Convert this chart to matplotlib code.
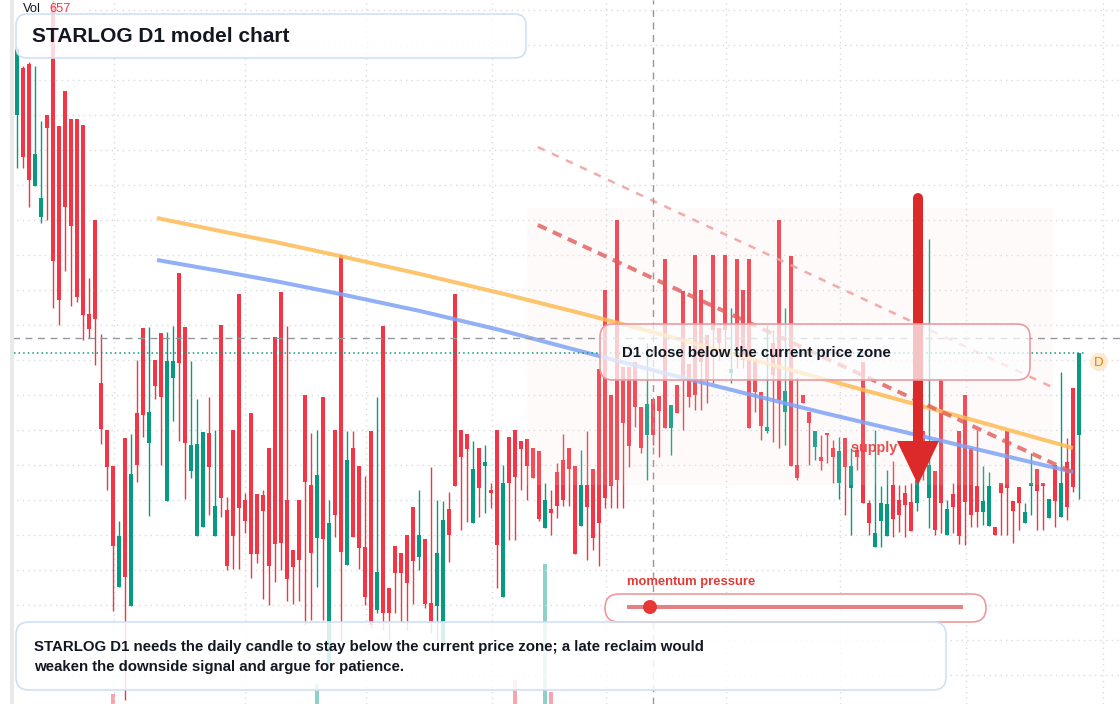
import numpy as np
import matplotlib
matplotlib.use("Agg")
import matplotlib.pyplot as plt
from matplotlib.patches import FancyBboxPatch, Rectangle, Polygon, Circle
from matplotlib.lines import Line2D
from matplotlib.transforms import Affine2D

# ---------------- data (price units) ----------------
opens = [585, 632, 636, 514, 483, 585, 695, 574, 609, 581, 581, 575, 386, 480, 317, 270, 234, 113, 262, 94,
         287, 372, 257, 340, 367, 199, 322, 427, 373, 229, 164, 173, 267, 164, 375, 190, 270, 406, 200, 287,
         206, 205, 252, 363, 408, 200, 150, 200, 305, 215, 162, 303, 33, 270, 445, 135, 252, 234, 153, 269,
         90, 374, 112, 154, 147, 165, 193, 143, 161, 97, 94, 53, 191, 406, 270, 266, 177, 252, 234, 210,
         270, 103, 263, 270, 259, 261, 252, 249, 172, 191, 228, 240, 252, 234, 174, 215, 231, 331, 410, 305,
         480, 333, 333, 338, 293, 265, 301, 304, 441, 272, 315, 409, 336, 445, 410, 365, 445, 372, 445, 327,
         441, 410, 441, 340, 308, 269, 357, 480, 288, 444, 235, 305, 288, 253, 243, 267, 252, 217, 262, 212,
         250, 338, 197, 153, 179, 164, 215, 200, 207, 198, 197, 269, 202, 229, 321, 165, 206, 269, 305, 252,
         214, 188, 174, 173, 217, 269, 199, 213, 177, 214, 231, 217, 182, 235, 183, 238, 312, 265]
highs = [653, 634, 638, 634, 579, 585, 700, 574, 609, 581, 581, 575, 422, 480, 366, 270, 234, 179, 262, 266,
         340, 372, 373, 340, 367, 368, 374, 427, 373, 339, 301, 268, 303, 270, 375, 203, 270, 406, 207, 287,
         206, 210, 252, 363, 408, 374, 150, 200, 305, 267, 270, 303, 200, 270, 445, 269, 269, 234, 224, 269,
         303, 374, 112, 154, 147, 165, 193, 210, 161, 233, 200, 199, 208, 406, 270, 266, 259, 252, 255, 217,
         270, 235, 263, 270, 259, 261, 252, 249, 217, 210, 237, 266, 252, 234, 250, 269, 231, 331, 410, 305,
         480, 333, 333, 338, 293, 357, 301, 304, 441, 295, 315, 409, 336, 445, 410, 365, 445, 372, 445, 392,
         441, 410, 441, 340, 308, 375, 370, 480, 392, 444, 323, 305, 288, 269, 265, 267, 260, 263, 262, 252,
         255, 338, 200, 270, 214, 230, 239, 215, 215, 217, 230, 269, 461, 229, 321, 200, 217, 269, 305, 252,
         270, 234, 228, 173, 217, 269, 199, 213, 197, 247, 231, 217, 201, 235, 328, 262, 312, 347]
lows = [532, 532, 493, 514, 477, 480, 392, 375, 429, 394, 398, 360, 362, 335, 256, 210, 89, 113, 0, 94,
        218, 263, 184, 301, 235, 199, 279, 259, 201, 222, 164, 173, 185, 164, 183, 130, 131, 131, 167, 122,
        137, 101, 95, 118, 130, 99, 96, 99, 75, 80, 113, 80, 33, 163, 60, 135, 163, 131, 95, 72,
        87, 70, 60, 87, 78, 70, 96, 130, 92, 67, 60, 53, 138, 214, 170, 178, 177, 183, 187, 192,
        112, 103, 160, 160, 210, 200, 222, 179, 172, 165, 182, 194, 194, 146, 174, 140, 150, 134, 192, 192,
        192, 192, 233, 273, 247, 220, 255, 243, 272, 245, 287, 270, 293, 290, 290, 297, 317, 340, 350, 317,
        332, 332, 272, 288, 260, 267, 258, 252, 255, 234, 220, 297, 235, 240, 230, 237, 217, 201, 185, 165,
        230, 197, 165, 153, 153, 164, 163, 168, 163, 169, 189, 220, 172, 165, 167, 165, 167, 156, 155, 173,
        173, 175, 174, 165, 165, 165, 157, 170, 177, 185, 170, 170, 182, 173, 183, 180, 208, 201]
closes = [651, 543, 520, 546, 502, 572, 439, 400, 493, 474, 403, 385, 371, 381, 271, 233, 154, 164, 123, 226,
          235, 285, 288, 314, 303, 339, 339, 337, 257, 255, 256, 268, 233, 194, 202, 134, 164, 192, 179, 146,
          146, 189, 134, 156, 157, 121, 133, 140, 218, 147, 225, 161, 177, 185, 148, 240, 163, 152, 103, 75,
          128, 87, 87, 127, 127, 117, 139, 165, 96, 78, 147, 180, 165, 214, 243, 251, 231, 212, 238, 207,
          155, 217, 217, 223, 251, 234, 222, 181, 200, 187, 194, 200, 231, 146, 215, 193, 162, 177, 202, 214,
          220, 277, 254, 293, 252, 296, 265, 289, 272, 295, 287, 320, 303, 305, 338, 320, 370, 357, 370, 331,
          352, 340, 272, 308, 274, 273, 325, 300, 309, 234, 222, 297, 277, 269, 239, 265, 243, 249, 233, 234,
          243, 197, 177, 167, 197, 196, 181, 185, 195, 169, 220, 230, 235, 170, 197, 191, 193, 164, 198, 185,
          188, 199, 214, 165, 207, 212, 189, 197, 188, 217, 209, 214, 201, 199, 217, 193, 213, 347]

vol_index = [16, 50, 83, 88, 89]
vol_values = [343, 392, 412, 980, 353]
vol_label = "657"

# model curves (bar index, price)
curve_x = [23.33, 33.83, 43.83, 53.83, 67.17, 80.5, 93.83, 107.17, 120.5, 133.83, 147.17, 160.5, 176.0]
orange_y = [482, 469, 457, 444, 426, 407, 387, 366, 344, 322, 300, 278, 252]
blue_y = [440, 429, 418, 406, 389, 370, 349, 328, 308, 288, 269, 250, 228]
trend_thick_x = [86.8, 175.8]
trend_thick_y = [475, 228]
trend_thin_x = [86.8, 172.5]
trend_thin_y = [553, 313]
zone_x = [85.0, 172.7]
zone_y = [215, 492]
crosshair_x = 106
crosshair_y = 362
grid_prices = [690, 655, 620, 585, 550, 515, 480, 445, 410, 375, 340, 305, 270, 235, 200, 165, 130, 95, 60, 25]
grid_times = [16.17, 38.0, 58.17, 79.17, 98.17, 118.17, 137.17, 158.17, 181.0]

UP = "#089981"
DOWN = "#f23645"
TXT = "#131722"
FONT = ["Liberation Sans", "DejaVu Sans"]
plt.rcParams["font.family"] = FONT

W, H = 1120, 704
fig = plt.figure(figsize=(W / 100, H / 100), dpi=100)
fig.patch.set_facecolor("white")

# pixel transform (origin top-left) for annotation layout
pix = Affine2D().scale(1, -1).translate(0, H)

# ---------- volume pane ----------
vax = fig.add_axes([0, -60 / H, 1, 204 / H], zorder=0)
vax.set_xlim(-17 / 6, (W - 17) / 6)
vax.set_ylim(0, 1000)
vax.axis("off")
vcols = [(UP if closes[i] >= opens[i] else DOWN) for i in vol_index]
vax.bar(vol_index, vol_values, width=0.8, color=vcols, alpha=0.45, linewidth=0)

# ---------- main pane ----------
ax = fig.add_axes([0, 0, 1, 1], zorder=1)
ax.set_xlim(-17 / 6, (W - 17) / 6)
ax.set_ylim(-4, 700)
ax.axis("off")

for p in grid_prices:
    ax.axhline(p, color="#d7dadf", lw=1.0, ls=(0, (1, 3)), zorder=0.5)
for t in grid_times:
    ax.axvline(t, color="#d7dadf", lw=1.0, ls=(0, (1, 3)), zorder=0.5)

idx = np.arange(len(opens))
o = np.array(opens, float); c = np.array(closes, float)
hi = np.array(highs, float); lo = np.array(lows, float)
up = c >= o
cols = np.where(up, UP, DOWN)
ax.vlines(idx, lo, hi, colors=cols, lw=1.0, zorder=2)
bottom = np.minimum(o, c)
height = np.maximum(np.abs(c - o), 1.2)
ax.bar(idx, height, bottom=bottom, width=0.8, color=cols, linewidth=0, zorder=2.1)

# zone
ax.add_patch(Rectangle((zone_x[0], zone_y[0]), zone_x[1] - zone_x[0], zone_y[1] - zone_y[0],
                       facecolor="#f3e2da", alpha=0.14, edgecolor="none", zorder=3))

# model lines
ax.plot(curve_x, orange_y, color="#fdbb55", alpha=0.85, lw=2.9, solid_capstyle="butt",
        solid_joinstyle="round", zorder=4)
ax.plot(curve_x, blue_y, color="#7fa3f6", alpha=0.85, lw=2.9, solid_capstyle="butt",
        solid_joinstyle="round", zorder=4)
ln, = ax.plot(trend_thick_x, trend_thick_y, color="#e25c5c", alpha=0.8, lw=2.9, zorder=4)
ln.set_dashes((2.4, 1.7))
ln2, = ax.plot(trend_thin_x, trend_thin_y, color="#f2a2a2", alpha=0.9, lw=1.8, zorder=4)
ln2.set_dashes((3.0, 3.2))

# crosshair + last price line
ax.axvline(crosshair_x, color="#9598a1", lw=1.0, ls=(0, (5, 4)), zorder=5)
ax.axhline(crosshair_y, color="#9598a1", lw=1.0, ls=(0, (5, 4)), zorder=5)
ax.hlines(closes[-1], -0.5, 178, colors=UP, lw=1.1, linestyles=(0, (1, 2)), zorder=5)

# supply zone label + arrow
ax.text(851, 448, "supply zone", transform=pix, color="#e53e3e", alpha=0.9, fontsize=10.4,
        fontweight="bold", va="center", ha="left", zorder=6)
ax.add_line(Line2D([918, 918], [198, 446], transform=pix, color="#dc2a2a", lw=7.2,
                   solid_capstyle="round", zorder=7))
ax.add_patch(Polygon([(897, 441), (939, 441), (918, 485)], closed=True, transform=pix,
                     facecolor="#dc2a2a", edgecolor="none", zorder=7))

def rbox(x, y, w, h, r, fc, fa, ec, lw, z):
    p = FancyBboxPatch((x, y), w, h, boxstyle=f"round,pad=0,rounding_size={r}",
                       transform=pix, facecolor=fc, edgecolor="none", alpha=fa, zorder=z)
    ax.add_patch(p)
    e = FancyBboxPatch((x, y), w, h, boxstyle=f"round,pad=0,rounding_size={r}",
                       transform=pix, facecolor="none", edgecolor=ec, lw=lw, zorder=z + 0.01)
    ax.add_patch(e)

# callout
rbox(600, 324, 430, 56, 13, "white", 0.72, "#ea9aa0", 1.2, 8)
ax.text(622, 353, "D1 close below the current price zone", transform=pix, color=TXT,
        fontsize=10.8, fontweight="bold", va="center", ha="left", zorder=9)

# D badge
ax.add_patch(Circle((1099, 362), 9, transform=pix, facecolor="#fde9cf", edgecolor="none", zorder=8))
ax.text(1099, 362.5, "D", transform=pix, color="#f57c00", fontsize=9.5, ha="center", va="center", zorder=9)

# momentum slider
ax.text(627, 582, "momentum pressure", transform=pix, color="#e53935", fontsize=9.4,
        fontweight="bold", va="center", ha="left", zorder=9)
rbox(605, 594, 381, 28, 14, "white", 0.8, "#ef9a9a", 1.2, 8)
ax.add_line(Line2D([627, 963], [607, 607], transform=pix, color="#e57373", lw=2.9, alpha=0.9,
                   solid_capstyle="butt", zorder=9))
ax.add_patch(Circle((650, 607), 7, transform=pix, facecolor="#e53935", edgecolor="none", zorder=9.5))

# title box
rbox(16, 14, 510, 44, 11, "white", 0.82, "#cfe0f6", 1.2, 8)
ax.text(32, 36, "STARLOG D1 model chart", transform=pix, color=TXT, fontsize=15.0,
        fontweight="bold", va="center", ha="left", zorder=9)

# bottom note box
rbox(16, 622, 930, 68, 13, "white", 0.85, "#cfe0f6", 1.2, 8)
ax.text(34, 647, "STARLOG D1 needs the daily candle to stay below the current price zone; a late reclaim would",
        transform=pix, color=TXT, fontsize=10.8, fontweight="bold", va="center", ha="left", zorder=9)
ax.text(34, 667, "weaken the downside signal and argue for patience.",
        transform=pix, color=TXT, fontsize=10.8, fontweight="bold", va="center", ha="left", zorder=9)

# volume legend
ax.add_patch(Rectangle((16, 0), 70, 14, transform=pix, facecolor="white", alpha=0.7,
                       edgecolor="none", zorder=7.5))
ax.text(23, 9, "Vol", transform=pix, color=TXT, fontsize=9.3, va="center", ha="left", zorder=9)
ax.text(49, 9, vol_label, transform=pix, color=DOWN, fontsize=9.3, va="center", ha="left", zorder=9)

# left strip
ax.add_patch(Rectangle((0, 0), 10, H, transform=pix, facecolor="white", edgecolor="none", zorder=10))
ax.add_patch(Rectangle((10, 0), 4, H, transform=pix, facecolor="#e9e9ea", edgecolor="none", zorder=10))

fig.savefig("out.png", dpi=100)
